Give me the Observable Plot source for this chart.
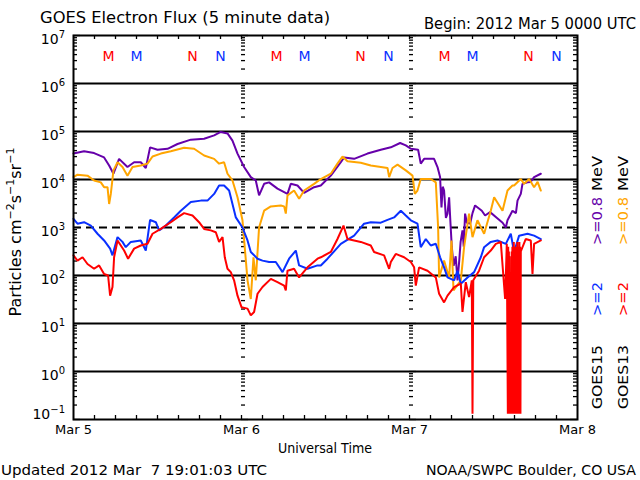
<!DOCTYPE html>
<html><head><meta charset="utf-8">
<script src="https://cdn.jsdelivr.net/npm/d3@7"></script>
<script src="https://cdn.jsdelivr.net/npm/@observablehq/plot@0.6"></script>
<style>
html,body{margin:0;padding:0;background:#fff;}
#c{width:640px;height:480px;}
svg{font-family:"DejaVu Sans",sans-serif;}
</style></head>
<body><div id="c"></div>
<script>
// ---- data: hours since 2012 Mar 5 00:00 UTC, values are log10(flux) ----
const purpleH = [0,1.51,2.94,4.37,5.09,5.71,6.51,7.71,8.66,9.61,10.33,10.94,12.0,13.43,14.86,16.76,18.66,20.09,21.04,22.0,22.71,23.43,24.37,25.33,26.04,26.51,27.23,27.94,29.14,30.57,31.04,32.0,32.94,34.37,35.33,36.76,38.19,38.66,40.09,42.0,43.9,45.33,46.66,47.47,48.19,49.23,49.61,50.09,51.51,52.0,52.37,52.57,52.75,52.94,53.2,53.43,53.66,53.85,54.04,54.3,54.6,54.86,55.1,55.3,55.57,55.75,55.94,56.2,56.66,57.0,57.37,58.33,58.8,59.51,60.5,61.3,61.76,62.0,62.71,63.2,63.43,63.9,64.14,64.86,65.3,65.8,66.76];
const purpleV = [4.54,4.59,4.55,4.46,4.29,4.12,4.43,4.26,4.36,4.36,4.24,4.67,4.62,4.64,4.74,4.83,4.85,4.92,4.99,4.96,4.81,4.54,4.26,4.05,3.98,3.67,3.91,3.94,3.81,3.70,3.91,3.875,3.72,3.84,3.875,4.08,4.36,4.46,4.43,4.54,4.62,4.67,4.76,4.71,4.64,4.62,4.33,4.43,4.43,4.26,4.05,3.42,3.85,3.77,3.2,3.29,3.63,3.1,2.6,2.2,2.4,1.9,2.3,2.7,2.94,2.6,3.29,3.1,3.08,3.3,3.46,3.35,3.25,3.32,3.2,3.1,3.0,3.15,3.35,3.3,3.56,3.70,3.91,3.94,3.95,4.05,4.12];

const orangeH = [0,0.57,2.0,2.94,3.9,4.37,4.86,5.09,5.33,5.71,6.29,7.0,7.71,8.43,9.61,10.57,11.29,12.47,13.9,15.8,17.23,18.66,20.09,20.8,21.51,22.0,22.71,23.43,24.14,24.86,25.33,25.71,26.04,26.51,27.23,28.19,29.61,30.09,30.33,30.57,31.51,32.23,32.94,34.37,35.33,36.76,37.71,38.43,39.14,41.04,42.47,44.86,45.09,45.57,46.29,47.47,48.43,48.76,49.14,49.61,51.04,51.76,52.09,52.23,52.94,53.66,54.0,54.29,55.33,55.8,56.51,57.0,57.71,58.66,59.61,60.09,61.29,62.0,62.71,62.94,63.9,64.37,65.09,65.8,66.3,66.76];
const orangeV = [4.05,4.10,4.08,3.98,3.94,3.84,3.84,3.49,3.70,4.19,4.36,4.26,4.08,4.26,4.29,4.33,4.48,4.54,4.59,4.66,4.64,4.50,4.43,4.33,4.36,4.12,3.98,3.63,3.15,1.9,1.51,2.38,1.9,3.0,3.35,3.44,3.46,3.44,3.29,3.67,3.77,3.60,3.77,3.91,4.01,4.12,4.33,4.48,4.38,4.35,4.29,4.24,4.05,4.24,4.31,4.19,4.08,3.70,3.77,4.01,4.01,3.94,3.0,1.96,2.31,1.96,2.73,1.69,1.9,2.59,3.29,2.80,3.15,2.87,3.35,3.63,3.35,3.77,3.875,3.875,4.01,3.91,4.01,3.84,3.95,3.77];

const blueH = [0,0.57,1.51,2.47,3.43,4.37,5.23,5.57,6.29,7.0,7.47,8.19,9.61,10.33,10.94,11.76,12.23,13.19,14.37,15.33,16.76,18.19,19.14,20.09,20.8,21.51,22.23,22.71,23.19,24.14,24.86,25.33,26.29,27.0,27.94,28.9,29.86,30.8,31.76,32.23,33.43,34.86,35.33,36.29,38.19,40.09,41.51,42.47,43.9,44.86,45.8,46.76,47.47,48.19,49.14,49.61,50.33,51.04,51.76,52.37,52.94,53.43,54.37,54.86,55.33,56.29,57.23,58.19,58.66,59.61,60.57,61.76,62.47,62.94,63.66,64.86,65.8,66.76];
const blueV = [3.18,3.08,3.11,3.04,2.87,2.73,2.56,2.42,2.80,2.70,2.59,2.70,2.73,2.52,3.16,3.11,2.94,3.04,3.21,3.35,3.53,3.56,3.56,3.70,3.875,3.875,3.77,3.49,3.21,3.0,2.73,2.49,2.35,2.31,2.28,2.28,2.07,2.35,2.52,2.21,2.14,2.21,2.21,2.35,2.66,2.83,3.08,3.11,3.10,3.16,3.21,3.35,3.25,3.15,3.08,2.59,2.76,2.625,2.66,2.38,2.17,1.96,1.90,2.10,1.83,1.96,2.07,2.38,2.59,2.70,2.73,2.66,2.87,2.49,2.83,2.87,2.83,2.76];

const redH = [0,0.57,1.29,2.0,2.94,3.66,4.37,4.94,5.23,5.57,5.8,6.29,6.76,7.23,7.8,8.66,9.61,10.57,11.29,12.47,13.9,14.86,15.8,17.0,17.94,18.66,19.61,20.33,20.8,21.29,21.61,22.0,22.47,22.94,23.43,24.0,24.86,25.33,25.8,26.29,27.0,28.19,29.14,30.09,30.33,30.57,31.51,32.23,33.43,34.86,35.33,36.76,37.71,38.57,39.14,40.09,41.04,42.47,42.94,44.37,45.09,45.33,46.04,47.23,48.19,48.66,48.9,49.37,50.57,51.76,52.23,52.94,53.43,54.37,55.33,55.57,56.04,56.51,56.9,57.0,57.11,57.94,58.66,59.61,60.33,61.04,61.66,61.9,
  62.05,62.1,62.15,62.2,62.25,62.3,62.35,62.4,62.45,62.5,62.55,62.6,62.65,62.7,62.75,62.8,62.85,62.9,62.95,63.0,63.05,63.1,63.15,63.2,63.25,63.3,63.35,63.4,63.45,63.5,63.55,63.6,63.65,63.7,63.75,63.8,63.85,63.9,
  64.6,65.33,65.57,65.8,66.76];
const redV = [2.42,2.31,2.38,2.24,2.14,2.21,2.03,2.0,1.58,1.76,2.38,2.73,2.625,2.52,2.35,2.56,2.625,2.66,2.87,2.97,3.11,3.21,3.30,3.25,3.11,2.97,2.94,2.90,2.70,2.80,2.38,2.14,2.07,1.90,1.58,1.34,1.31,1.17,1.24,1.62,1.76,1.93,1.86,1.79,1.69,2.10,2.14,1.96,2.17,2.35,2.38,2.49,2.76,3.04,2.76,2.73,2.70,2.625,2.49,2.42,2.14,2.28,2.45,2.38,2.28,2.17,1.79,2.17,2.10,1.96,1.62,1.44,1.58,1.76,1.83,1.24,1.86,1.55,1.9,-0.88,1.9,2.10,2.38,2.52,2.66,2.70,1.51,2.66,
  -0.88,2.6,-0.88,2.5,-0.88,2.4,-0.88,1.9,-0.88,2.0,-0.88,2.5,-0.88,2.6,-0.88,2.5,-0.88,2.7,-0.88,2.6,-0.88,2.4,-0.88,2.6,-0.88,2.5,-0.88,2.7,-0.88,2.6,-0.88,2.6,-0.88,2.7,-0.88,2.6,-0.88,2.5,
  2.76,2.73,2.03,2.66,2.73];

const seriesNames  = ["GOES15 >=0.8 MeV","GOES13 >=0.8 MeV","GOES15 >=2 MeV","GOES13 >=2 MeV"];
const seriesColors = ["#6600aa","#ffa500","#0a30ff","#ff0000"];

const dayHours  = [0,24,48,72];
const dayLabels = ["Mar 5","Mar 6","Mar 7","Mar 8"];
const decades   = [-1,0,1,2,3,4,5,6,7];
const solidGrid = [1e0,1e1,1e2,1e4,1e5,1e6];
const dashedGrid = [1e3];

const markerHours  = [5,9,17,21,29,33,41,45,53,57,65,69];
const markerLabels = ["M","M","N","N","M","M","N","N","M","M","N","N"];
const markerColors = ["#ff0000","#0a30ff","#ff0000","#0a30ff","#ff0000","#0a30ff","#ff0000","#0a30ff","#ff0000","#0a30ff","#ff0000","#0a30ff"];

// ---- build tables ----
const mk = (H,V,s) => H.map((h,i)=>({h, v: Math.pow(10,V[i]), s}));
const lines = [mk(purpleH,purpleV,0), mk(orangeH,orangeV,1), mk(blueH,blueV,2), mk(redH,redV,3)];

// layout constants
const W=640, H=480, mT=35, mL=73, mR=63, mB=61;
const hPerPx = 72/(W-mL-mR);          // hours per pixel
const decPerPx = 8/(H-mT-mB);         // decades per pixel
const pxY = (v, px) => v*Math.pow(10, px*decPerPx);

// minor + major tick values on y
const yMinor=[], yMajor=[];
for (let d=-1; d<=7; d++){ yMajor.push(Math.pow(10,d)); if(d<7) for(let k=2;k<=9;k++) yMinor.push(k*Math.pow(10,d)); }
const xTicks = d3.range(3,72,3);

const tickCols = [0,24,48];
const rulesY = [];
for (const c of tickCols){
  for (const v of yMinor) rulesY.push({y:v, x1:c, x2:c+4*hPerPx});
  for (const v of yMajor) rulesY.push({y:v, x1:c, x2:c+7*hPerPx});
}
for (const v of yMinor) rulesY.push({y:v, x1:72-4*hPerPx, x2:72});
for (const v of yMajor) rulesY.push({y:v, x1:72-7*hPerPx, x2:72});
const rulesX = [];
for (const t of xTicks){
  rulesX.push({x:t, y1:0.1, y2:pxY(0.1,4)});
  rulesX.push({x:t, y1:pxY(1e7,-4), y2:1e7});
}

const chart = Plot.plot({
  width: W, height: H,
  marginTop: mT, marginLeft: mL, marginRight: mR, marginBottom: mB,
  style: {fontFamily: '"DejaVu Sans", sans-serif', background: "white"},
  x: {type:"linear", domain:[0,72], axis:null},
  y: {type:"log", domain:[0.1,1e7], axis:null},
  marks: [
    Plot.ruleY(solidGrid, {stroke:"black", strokeWidth:1.8}),
    Plot.ruleY(dashedGrid, {stroke:"black", strokeWidth:1.8, strokeDasharray:"8,5"}),
    Plot.ruleY(rulesY, {y:"y", x1:"x1", x2:"x2", stroke:"black", strokeWidth:1.3}),
    Plot.ruleX(rulesX, {x:"x", y1:"y1", y2:"y2", stroke:"black", strokeWidth:1.3}),
    ...lines.map(L => Plot.line(L, {x:"h", y:"v", stroke: seriesColors[L[0].s], strokeWidth:2, strokeLinejoin:"miter"})),
    Plot.text(markerHours, {x: d=>d, text:(d,i)=>markerLabels[i], fill:(d,i)=>markerColors[i], frameAnchor:"top", dy:16, fontSize:14}),
    Plot.text(dayHours, {x:d=>d, text:(d,i)=>dayLabels[i], frameAnchor:"bottom", dy:14, fontSize:13, fill:"black"}),
    Plot.frame({stroke:"black", strokeWidth:2})
  ]
});
document.getElementById("c").appendChild(chart);

// ---- text decorations via the chart's y scale ----
const svg = d3.select(chart);
const ys = chart.scale("y");
const txt = (x,y,s,opt={}) => {
  const t = svg.append("text").attr("x",x).attr("y",y).text(s)
    .attr("font-size", opt.size||14).attr("fill", opt.fill||"black")
    .attr("text-anchor", opt.anchor||"start");
  if (opt.len) t.attr("textLength", opt.len).attr("lengthAdjust","spacingAndGlyphs");
  if (opt.rot) t.attr("transform", `rotate(-90 ${x} ${y})`);
  return t;
};
// y tick labels 10^n
for (const d of decades){
  const y = ys.apply(Math.pow(10,d));
  const off = d === -1 ? 0 : 9;
  const t = svg.append("text").attr("x", 65).attr("y", y+off).attr("text-anchor","end").attr("font-size",14).attr("fill","black");
  t.append("tspan").text("10");
  t.append("tspan").attr("dy",-6).attr("font-size",10).text(String(d).replace("-","\u2212"));
}
// titles
txt(40, 23, "GOES Electron Flux (5 minute data)", {size:15, len:290});
txt(636, 29, "Begin: 2012 Mar 5 0000 UTC", {size:15, anchor:"end", len:212});
txt(325, 453, "Universal Time", {size:14, anchor:"middle", len:94});
txt(1, 475, "Updated 2012 Mar  7 19:01:03 UTC", {size:14, len:266}).style("white-space","pre");
txt(636, 475, "NOAA/SWPC Boulder, CO USA", {size:14, anchor:"end", len:210});
// y axis title
{
  const t = svg.append("text").attr("transform","translate(21,232) rotate(-90)").attr("text-anchor","middle").attr("font-size",16).attr("fill","black");
  t.append("tspan").text("Particles cm");
  t.append("tspan").attr("dy",-7).attr("font-size",11).text("\u22122");
  t.append("tspan").attr("dy",7).text("s");
  t.append("tspan").attr("dy",-7).attr("font-size",11).text("\u22121");
  t.append("tspan").attr("dy",7).text("sr");
  t.append("tspan").attr("dy",-7).attr("font-size",11).text("\u22121");
}
// right side legend (rotated)
const col1 = 602, col2 = 628;
txt(col1, 409, "GOES15", {size:14, rot:true, len:64});
txt(col1, 316, ">=2", {size:14, rot:true, fill:seriesColors[2], len:34});
txt(col1, 245, ">=0.8", {size:14, rot:true, fill:seriesColors[0], len:48});
txt(col1, 191, "MeV", {size:14, rot:true, len:35});
txt(col2, 409, "GOES13", {size:14, rot:true, len:64});
txt(col2, 316, ">=2", {size:14, rot:true, fill:seriesColors[3], len:34});
txt(col2, 245, ">=0.8", {size:14, rot:true, fill:seriesColors[1], len:48});
txt(col2, 191, "MeV", {size:14, rot:true, len:35});
</script></body></html>
